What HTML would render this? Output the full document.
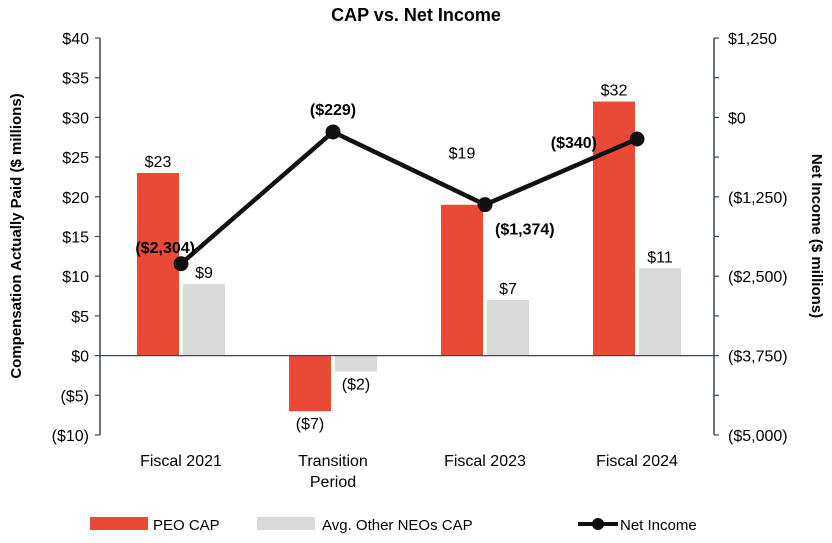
<!DOCTYPE html>
<html><head><meta charset="utf-8"><style>
body{margin:0;background:#fff;font-family:"Liberation Sans",Arial,sans-serif}
svg text{font-family:"Liberation Sans",Arial,sans-serif}
</style></head><body>
<svg id="chart" width="832" height="538" viewBox="0 0 832 538">
<text x="416" y="21" text-anchor="middle" font-size="18" font-weight="bold">CAP vs. Net Income</text>
<text transform="translate(21,236) rotate(-90)" text-anchor="middle" font-size="15" font-weight="bold">Compensation Actually Paid ($ millions)</text>
<text transform="translate(812,236) rotate(90)" text-anchor="middle" font-size="15" font-weight="bold">Net Income ($ millions)</text>
<g id="plot"></g>
<g>
<rect x="90" y="517" width="58" height="13" fill="#e84a35"/>
<text x="153" y="530" font-size="15">PEO CAP</text>
<rect x="257" y="517" width="58" height="13" fill="#d9d9d9"/>
<text x="322" y="530" font-size="15">Avg. Other NEOs CAP</text>
<line x1="578" y1="524" x2="618" y2="524" stroke="#111" stroke-width="4"/>
<circle cx="598" cy="524" r="6" fill="#111"/>
<text x="620" y="530" font-size="15">Net Income</text>
</g>
</svg>
<script>
const categories=[["Fiscal 2021"],["Transition","Period"],["Fiscal 2023"],["Fiscal 2024"]];
const peoCap=[23,-7,19,32];
const neoCap=[9,-2,7,11];
const netIncome=[-2304,-229,-1374,-340];
const leftTicks=[40,35,30,25,20,15,10,5,0,-5,-10];
const rightTicks=[1250,0,-1250,-2500,-3750,-5000];
const NS="http://www.w3.org/2000/svg";
const g=document.getElementById('plot');
const X0=100,X1=714,YT=38,YB=435;
const yL=v=>YT+(40-v)/50*(YB-YT);
const yR=v=>YT+(1250-v)/6250*(YB-YT);
const cx=i=>181+i*152;
function mk(t,a,txt){const e=document.createElementNS(NS,t);for(const k in a)e.setAttribute(k,a[k]);if(txt!==undefined)e.textContent=txt;g.appendChild(e);return e;}
const fmt=v=>v<0?"($"+Math.abs(v).toLocaleString("en-US")+")":"$"+v.toLocaleString("en-US");
const ax="#3b4656";
let e;
e=mk('line',{x1:X0,y1:YT,x2:X0,y2:YB,stroke:ax,'stroke-width':1.5});


e=mk('line',{x1:X1,y1:YT,x2:X1,y2:YB,stroke:ax,'stroke-width':1.5});


leftTicks.forEach(v=>{
 e=mk('line',{x1:X0-5,y1:yL(v),x2:X0,y2:yL(v),stroke:ax,'stroke-width':1.2});
 
 
 e=mk('text',{x:X0-11,y:yL(v)+6,'text-anchor':'end','font-size':16},fmt(v));
 
 
});
for(let v=1250;v>=-5000;v-=625){
 e=mk('line',{x1:X1,y1:yR(v),x2:X1+5,y2:yR(v),stroke:ax,'stroke-width':1.2});
 
 
}
rightTicks.forEach(v=>{
 e=mk('text',{x:X1+14,y:yR(v)+6,'font-size':16},fmt(v));
 
 
});
const bw=42;
categories.forEach((c,i)=>{
 const p=peoCap[i],n=neoCap[i];
 e=mk('rect',{x:cx(i)-bw-2,y:Math.min(yL(p),yL(0)),width:bw,height:Math.abs(yL(p)-yL(0)),fill:'#e84a35'});
 
 
 e=mk('rect',{x:cx(i)+2,y:Math.min(yL(n),yL(0)),width:bw,height:Math.abs(yL(n)-yL(0)),fill:'#d9d9d9'});
 
 
 let py=p>=0?yL(p)-6:yL(p)+18;
 if(i===2) py-=40;
 const ny=n>=0?yL(n)-6:yL(n)+18;
 e=mk('text',{x:cx(i)-bw/2-2,y:py,'text-anchor':'middle','font-size':16},fmt(p));
 
 
 e=mk('text',{x:cx(i)+bw/2+2,y:ny,'text-anchor':'middle','font-size':16},fmt(n));
 
 
 c.forEach((l,k)=>{
  e=mk('text',{x:cx(i),y:466+k*21,'text-anchor':'middle','font-size':16},l);
  
  
 });
});
e=mk('line',{x1:X0,y1:yL(0),x2:X1,y2:yL(0),stroke:ax,'stroke-width':1.2});


e=mk('polyline',{points:netIncome.map((v,i)=>cx(i)+','+yR(v)).join(' '),fill:'none',stroke:'#111','stroke-width':4.5});


const off=[[14,-16,'end'],[0,-22,'middle'],[10,25,'start'],[-40,4,'end']];
netIncome.forEach((v,i)=>{
 e=mk('circle',{cx:cx(i),cy:yR(v),r:7.5,fill:'#111'});
 
 
 e=mk('text',{x:cx(i)+off[i][0],y:yR(v)+off[i][1]+5,'text-anchor':off[i][2],'font-size':16,'font-weight':'bold'},fmt(v));
 
 
});
</script>
</body></html>
